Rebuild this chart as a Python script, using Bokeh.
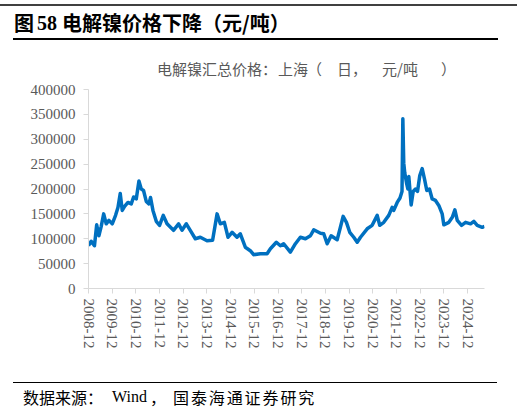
import pandas as pd
from bokeh.plotting import figure
from bokeh.layouts import column
from bokeh.models import Range1d, FixedTicker, NumeralTickFormatter, CustomJSTickFormatter, Div
from bokeh.embed import file_html
from bokeh.resources import INLINE

# ---------------- data ----------------
dates = [
    "2008-12-01", "2009-01-12", "2009-03-03", "2009-04-06", "2009-05-10", "2009-06-15",
    "2009-07-23", "2009-08-31", "2009-10-12", "2009-12-02", "2010-01-22", "2010-02-28",
    "2010-04-04", "2010-05-05", "2010-06-10", "2010-08-01", "2010-09-21", "2010-10-27",
    "2010-12-07", "2011-01-17", "2011-02-22", "2011-03-29", "2011-05-10", "2011-06-20",
    "2011-07-15", "2011-08-21", "2011-10-11", "2011-12-01", "2012-01-27", "2012-03-25",
    "2012-07-03", "2012-09-20", "2012-11-12", "2013-01-17", "2013-03-19", "2013-06-05",
    "2013-08-21", "2013-12-02", "2014-02-26", "2014-05-06", "2014-06-25", "2014-08-26",
    "2014-10-22", "2014-12-23", "2015-03-09", "2015-04-29", "2015-07-15", "2015-09-30",
    "2015-11-20", "2016-03-03", "2016-06-15", "2016-08-05", "2016-11-05", "2017-01-06",
    "2017-02-26", "2017-06-09", "2017-08-26", "2017-11-10", "2018-01-27", "2018-04-14",
    "2018-06-04", "2018-09-16", "2018-11-05", "2018-12-28", "2019-02-27", "2019-05-31",
    "2019-07-20", "2019-08-31", "2019-10-21", "2019-12-11", "2020-02-11", "2020-04-04",
    "2020-05-25", "2020-09-05", "2020-11-21", "2021-02-07", "2021-03-18", "2021-05-19",
    "2021-08-04", "2021-09-25", "2021-10-20", "2021-12-12", "2022-01-24", "2022-02-24",
    "2022-03-09", "2022-03-23", "2022-04-08", "2022-05-05", "2022-05-25", "2022-06-09",
    "2022-07-15", "2022-08-15", "2022-09-20", "2022-10-21", "2022-11-25", "2023-01-01",
    "2023-02-06", "2023-03-13", "2023-04-23", "2023-06-04", "2023-07-25", "2023-09-14",
    "2023-11-05", "2023-11-30", "2024-02-16", "2024-04-09", "2024-05-19", "2024-06-25",
    "2024-08-30", "2024-10-31", "2025-01-16", "2025-03-08", "2025-04-29", "2025-07-15",
    "2025-08-19",
]
prices = [
    86000, 95000, 86000, 128000, 106000, 125000,
    150000, 130000, 137000, 130000, 147000, 163000,
    191000, 157000, 165000, 173000, 170000, 184000,
    180000, 216000, 200000, 197000, 175000, 170000,
    183000, 157000, 135000, 127000, 147000, 130000,
    117000, 130000, 117000, 130000, 117000, 100000,
    103000, 96000, 97000, 150000, 130000, 133000,
    103000, 113000, 103000, 110000, 83000, 76000,
    68000, 70000, 70000, 80000, 93000, 86000,
    90000, 73000, 90000, 103000, 100000, 106000,
    118000, 111000, 110000, 90000, 106000, 98000,
    123000, 145000, 133000, 113000, 103000, 93000,
    103000, 120000, 127000, 147000, 127000, 133000,
    147000, 163000, 157000, 173000, 182000, 195000,
    341000, 252000, 232000, 212000, 200000, 225000,
    168000, 195000, 200000, 195000, 227000, 241000,
    220000, 197000, 200000, 180000, 177000, 167000,
    150000, 128000, 133000, 143000, 158000, 137000,
    127000, 133000, 130000, 135000, 127000, 123000,
    125000,
]
tick_labels = ["2008-12", "2009-12", "2010-12", "2011-12", "2012-12", "2013-12",
               "2014-12", "2015-12", "2016-12", "2017-12", "2018-12", "2019-12",
               "2020-12", "2021-12", "2022-12", "2023-12", "2024-12"]
y_ticks = [0, 50000, 100000, 150000, 200000, 250000, 300000, 350000, 400000]

fig_title_num = "图"
fig_title_no = "58"
fig_title_text = "电解镍价格下降（元/吨）"
series_parts = ["电解镍汇总价格：", "上海", "（", "日", "，", "元/吨", "）"]
source_parts = ["数据来源：", "Wind", "，", "国泰海通证券研究"]


def dec_year(s):
    d = pd.Timestamp(s)
    start = pd.Timestamp(year=d.year, month=1, day=1)
    n = 366 if d.is_leap_year else 365
    return d.year + (d - start).days / n


xs = [dec_year(d) for d in dates]
tick_x = [dec_year(t + "-01") for t in tick_labels]

CJK = "'Noto Sans CJK SC'"
SERIF = "'Liberation Serif'"
GREY = "#595959"
W = 524


def span(text, left, top, size, family, color="#000", bold=False, extra=""):
    return (f'<span style="position:absolute;left:{left}px;top:{top}px;'
            f'font-family:{family};font-size:{size}px;line-height:{size}px;'
            f'color:{color};font-weight:{"bold" if bold else "normal"};'
            f'white-space:nowrap;{extra}">{text}</span>')


def rule(left, top, width, thick, color):
    return (f'<div style="position:absolute;left:{left}px;top:{top}px;width:{width}px;'
            f'height:{thick}px;background:{color};"></div>')


# ---------------- header ----------------
head_html = '<div style="position:relative;width:524px;height:80px;">'
head_html += rule(0, 4, 517, 2, "#404040")
head_html += span(fig_title_num, 14, 13, 20, CJK, bold=True)
head_html += span(fig_title_no, 37, 13, 20, SERIF, bold=True)
head_html += span(fig_title_text, 62, 13, 20, CJK, bold=True)
head_html += rule(13, 38, 485, 1.5, "#000")
for s, x0 in zip(series_parts, [157, 278, 307, 337, 352, 382, 441]):
    head_html += span(s, x0, 60.5, 15, CJK, color=GREY)
head_html += '</div>'
header = Div(text=head_html, width=W, height=80, margin=0)

# ---------------- main chart ----------------
p = figure(width=W, height=292, x_range=Range1d(xs[0], xs[-1]),
           y_range=Range1d(0, 400000), output_backend="svg", toolbar_location=None,
           min_border_left=88, min_border_right=40, min_border_top=9, min_border_bottom=84)
p.line(xs, prices, line_color="#0070C0", line_width=3.5, line_join="round")
p.grid.visible = False
p.outline_line_color = None
for ax in (p.xaxis[0], p.yaxis[0]):
    ax.axis_line_color = "#d9d9d9"
    ax.axis_line_width = 1
    ax.major_tick_line_color = "#d9d9d9"
    ax.major_tick_out = 5
    ax.major_tick_in = 0
    ax.minor_tick_line_color = None
    ax.major_label_text_font = "Liberation Serif"
    ax.major_label_text_font_size = "15px"
    ax.major_label_text_color = GREY
p.xaxis.ticker = FixedTicker(ticks=tick_x)
p.xaxis.formatter = CustomJSTickFormatter(
    args=dict(tpos=tick_x, tlabs=tick_labels),
    code="""
    let b = 0;
    for (let i = 0; i < tpos.length; i++) {
        if (Math.abs(tpos[i] - tick) < Math.abs(tpos[b] - tick)) b = i;
    }
    return tlabs[b];
    """)
p.xaxis.major_label_orientation = "vertical"
p.xaxis.major_label_standoff = 5
p.yaxis.ticker = FixedTicker(ticks=y_ticks)
p.yaxis.formatter = NumeralTickFormatter(format="0")
p.yaxis.major_label_standoff = 8

# ---------------- footer ----------------
foot_html = '<div style="position:relative;width:524px;height:40px;">'
foot_html += rule(13, 9.5, 484, 1.5, "#000")
for s, x0, f, ex in zip(source_parts, [23, 112, 150, 173], [CJK, SERIF, CJK, CJK],
                        ["", "", "", "letter-spacing:1.9px;"]):
    foot_html += span(s, x0, 17, 16, f, extra=ex)
foot_html += '</div>'
footer = Div(text=foot_html, width=W, height=40, margin=0)

layout = column(header, p, footer, spacing=0)
open("out.html", "w").write(file_html(layout, INLINE))
